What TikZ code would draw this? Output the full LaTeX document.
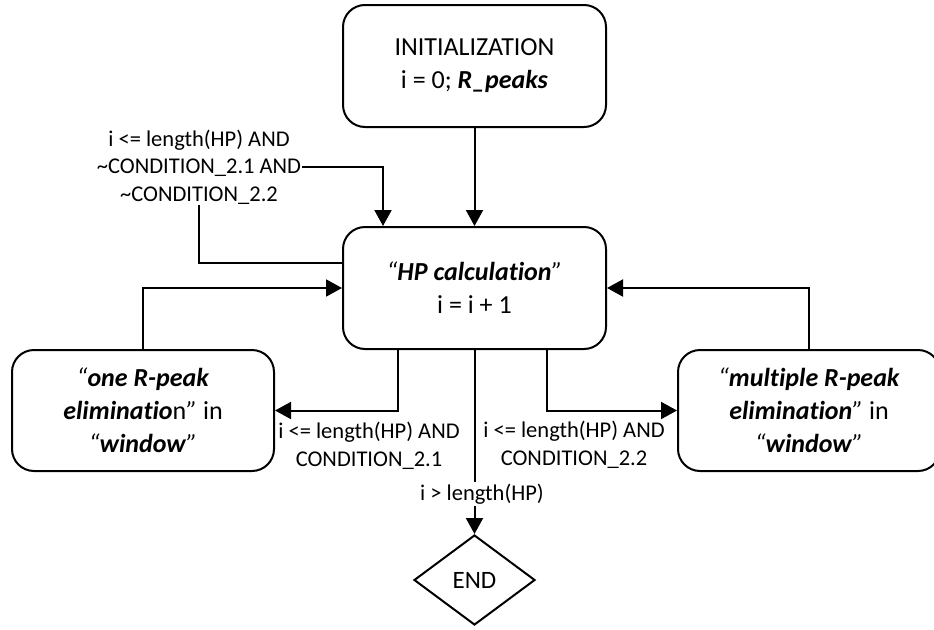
\documentclass[tikz,border=0pt]{standalone}
\usepackage{fontspec}
\setmainfont{Carlito}[Ligatures=NoCommon]
\usetikzlibrary{arrows.meta,shapes.geometric}
\newcommand{\bi}[1]{\textbf{\textit{#1}}}
\newcommand{\oq}{\textit{“}}
\newcommand{\cq}{\textit{”}}
\begin{document}
\begin{tikzpicture}[x=1pt,y=-1pt,
  box/.style={draw, line width=2pt, rounded corners=22pt, minimum width=263pt, minimum height=122pt, align=center, font=\fontsize{26}{33}\selectfont, inner sep=0pt},
  lbl/.style={align=center, font=\fontsize{22.5}{27.5}\selectfont, inner sep=1pt},
  conn/.style={line width=2pt, -{Triangle[length=16pt,width=17pt]}},
  plain/.style={line width=2pt}]
\clip (0,0) rectangle (934,629);
\node[box] (init) at (474.5,66) {INITIALIZATION\\ i = 0; \bi{R\_peaks}};
\node[box] (hp) at (474.5,288) {\oq\bi{HP calculation}\cq\\ i = i + 1};
\node[box, minimum width=262pt, minimum height=121pt] (one) at (143,410.5) {\oq\bi{one R-peak}\\ \bi{eliminatio}n\cq{} in\\ \oq\bi{window}\cq};
\node[box, minimum width=262pt, minimum height=121pt] (multi) at (809,410.5) {\oq\bi{multiple R-peak}\\ \bi{elimination}\cq{} in\\ \oq\bi{window}\cq};
\node[diamond, draw, line width=2pt, minimum width=121pt, minimum height=90pt, inner sep=0pt, font=\fontsize{25}{28}\selectfont] (end) at (474.5,580) {END};

\node[lbl] (l1) at (199,167) {i <= length(HP) AND\\ \textasciitilde CONDITION\_2.1 AND\\ \textasciitilde CONDITION\_2.2};
\node[lbl] (l2) at (369,446) {i <= length(HP) AND\\ CONDITION\_2.1};
\node[lbl] (l3) at (574,445) {i <= length(HP) AND\\ CONDITION\_2.2};

\draw[conn] (init.south) -- (hp.north);
\draw[plain] (hp.west |- 0,263) -| (l1.south);
\draw[conn] (l1.east) -| ([xshift=-91.5pt]hp.north);
\draw[conn] (one.north) |- (hp.west);
\draw[conn] (multi.north) |- (hp.east);
\draw[conn] ([xshift=-76.5pt]hp.south) |- (one.east);
\draw[conn] ([xshift=72pt]hp.south) |- (multi.west);
\draw[conn] (hp.south) -- (end.north);
\node[lbl, fill=white, inner sep=2pt] (l4) at (482,494) {i > length(HP)};
\end{tikzpicture}
\end{document}
